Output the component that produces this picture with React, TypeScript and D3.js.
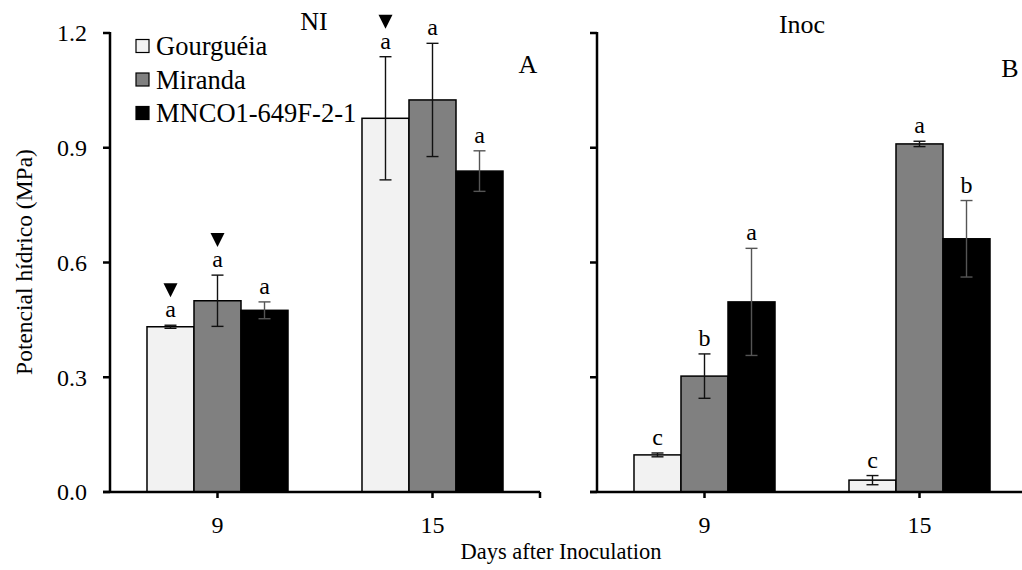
import * as d3 from "d3";
import { useEffect, useRef } from "react";

const days = ["9", "15"];
const genotypes = ["Gourguéia", "Miranda", "MNCO1-649F-2-1"];
const colors = ["#f2f2f2", "#808080", "#000000"];
const yTicks = [0, 0.3, 0.6, 0.9, 1.2];

// NI panel, rows = days, cols = genotypes
const niValues = [
  [0.432, 0.5, 0.475],
  [0.977, 1.025, 0.839],
];
const niErrors = [
  [0.004, 0.067, 0.022],
  [0.161, 0.148, 0.053],
];
const niLetters = [
  ["a", "a", "a"],
  ["a", "a", "a"],
];
const niMarked = [
  [true, true, false],
  [true, false, false],
];

// Inoc panel
const inocValues = [
  [0.097, 0.303, 0.497],
  [0.031, 0.91, 0.662],
];
const inocErrors = [
  [0.005, 0.058, 0.14],
  [0.012, 0.007, 0.1],
];
const inocLetters = [
  ["c", "b", "a"],
  ["c", "a", "b"],
];

export default function App() {
  const ref = useRef<SVGSVGElement>(null);

  useEffect(() => {
    const svg = d3.select(ref.current);
    svg.selectAll("*").remove();

    const width = 1022;
    const height = 570;
    const font = "'Liberation Serif', 'Times New Roman', serif";
    svg.attr("width", width).attr("height", height).attr("font-family", font);

    const y = d3.scaleLinear().domain([0, 1.2]).range([492, 33]);

    const drawPanel = (
      left: number,
      right: number,
      axisEnd: number,
      values: number[][],
      errors: number[][],
      letters: string[][],
      marked: boolean[][] | null,
      showLabels: boolean
    ) => {
      const g = svg.append("g");
      const x0 = d3.scaleBand().domain(days).range([left, right]).padding(0);
      const x1 = d3.scaleBand()
        .domain(genotypes)
        .range([0, x0.bandwidth()])
        .paddingInner(0)
        .paddingOuter(0.787);

      days.forEach((day, di) => {
        genotypes.forEach((gen, gi) => {
          const v = values[di][gi];
          const e = errors[di][gi];
          const bx = x0(day)! + x1(gen)!;
          const cx = bx + x1.bandwidth() / 2;
          g.append("rect")
            .attr("x", bx)
            .attr("y", y(v))
            .attr("width", x1.bandwidth())
            .attr("height", y(0) - y(v))
            .attr("fill", colors[gi])
            .attr("stroke", "#000")
            .attr("stroke-width", 1.5);
          const eb = g.append("g").attr("stroke", gi === 2 ? "#555" : "#111").attr("stroke-width", 1.4);
          eb.append("line").attr("x1", cx).attr("x2", cx).attr("y1", y(v - e)).attr("y2", y(v + e));
          [v - e, v + e].forEach(t => {
            eb.append("line").attr("x1", cx - 6).attr("x2", cx + 6).attr("y1", y(t)).attr("y2", y(t));
          });
          const ly = y(v + e) - 8;
          g.append("text")
            .attr("x", cx)
            .attr("y", ly)
            .attr("text-anchor", "middle")
            .attr("font-size", 24)
            .text(letters[di][gi]);
          if (marked && marked[di][gi]) {
            const ty = ly - 20;
            g.append("path")
              .attr("d", `M${cx - 7},${ty - 14}L${cx + 7},${ty - 14}L${cx},${ty}Z`)
              .attr("fill", "#000");
          }
        });
      });

      // y axis
      g.append("line")
        .attr("x1", left).attr("x2", left)
        .attr("y1", y(1.2) - 1).attr("y2", y(0))
        .attr("stroke", "#000").attr("stroke-width", 2.5);
      yTicks.forEach(t => {
        g.append("line")
          .attr("x1", left - 7).attr("x2", left)
          .attr("y1", y(t)).attr("y2", y(t))
          .attr("stroke", "#000").attr("stroke-width", 2.5);
        if (showLabels) {
          g.append("text")
            .attr("x", left - 23)
            .attr("y", y(t))
            .attr("dy", "0.35em")
            .attr("text-anchor", "end")
            .attr("font-size", 24)
            .text(d3.format(".1f")(t));
        }
      });

      // x axis
      g.append("line")
        .attr("x1", left - 7).attr("x2", axisEnd)
        .attr("y1", y(0)).attr("y2", y(0))
        .attr("stroke", "#000").attr("stroke-width", 2.5);
      days.forEach(day => {
        const cx = x0(day)! + x0.bandwidth() / 2;
        g.append("line")
          .attr("x1", cx).attr("x2", cx)
          .attr("y1", y(0)).attr("y2", y(0) + 6)
          .attr("stroke", "#000").attr("stroke-width", 2.5);
        g.append("text")
          .attr("x", cx)
          .attr("y", 533)
          .attr("text-anchor", "middle")
          .attr("font-size", 24)
          .text(day);
      });
      if (axisEnd === right) {
        g.append("line")
          .attr("x1", right).attr("x2", right)
          .attr("y1", y(0)).attr("y2", y(0) + 6)
          .attr("stroke", "#000").attr("stroke-width", 2.5);
      }
    };

    drawPanel(110, 540, 540, niValues, niErrors, niLetters, niMarked, true);
    drawPanel(597, 1027, 1022, inocValues, inocErrors, inocLetters, null, false);

    // panel titles
    const titles = [
      { t: "NI", x: 314, y: 30 },
      { t: "Inoc", x: 802, y: 33 },
      { t: "A", x: 528, y: 73 },
      { t: "B", x: 1010, y: 77 },
    ];
    titles.forEach(d => {
      svg.append("text")
        .attr("x", d.x).attr("y", d.y)
        .attr("text-anchor", "middle")
        .attr("font-size", 26)
        .text(d.t);
    });

    // legend
    const legend = svg.append("g");
    genotypes.forEach((gen, i) => {
      const ly = 46 + i * 33.5;
      legend.append("rect")
        .attr("x", 136).attr("y", ly - 6.5)
        .attr("width", 13).attr("height", 13)
        .attr("fill", colors[i])
        .attr("stroke", "#000").attr("stroke-width", 1.2);
      legend.append("text")
        .attr("x", 156).attr("y", ly)
        .attr("dy", "0.35em")
        .attr("font-size", 26.5)
        .text(gen);
    });

    // axis titles
    svg.append("text")
      .attr("transform", `translate(32,262) rotate(-90)`)
      .attr("text-anchor", "middle")
      .attr("font-size", 23.5)
      .text("Potencial hídrico (MPa)");
    svg.append("text")
      .attr("x", 561).attr("y", 559)
      .attr("text-anchor", "middle")
      .attr("font-size", 22.5)
      .text("Days after Inoculation");
  }, []);

  return (
    <div style={{ position: "absolute", left: 0, top: 0 }}>
      <svg ref={ref}></svg>
    </div>
  );
}
